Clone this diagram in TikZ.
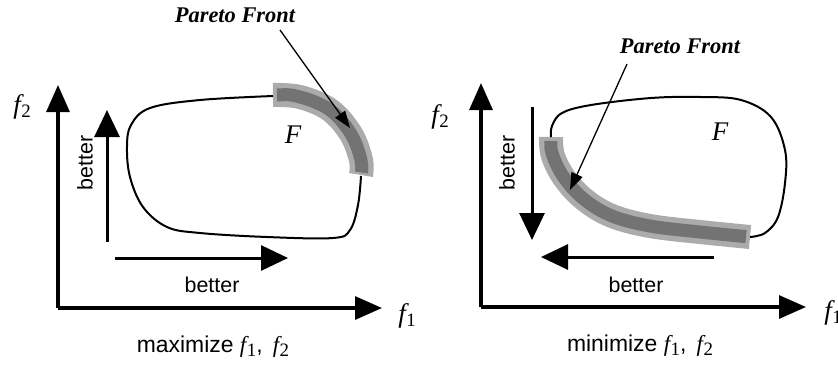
\documentclass[tikz,border=0pt]{standalone}
\usepackage{fontspec}
\setmainfont{Liberation Sans}
\newfontfamily\timesfont{Liberation Serif}
\usetikzlibrary{arrows.meta}

\newcommand{\fvar}[1]{{\timesfont\itshape f}\kern0.5bp{\timesfont\fontsize{19}{21}\selectfont\raisebox{-0.4ex}{#1}}}

\tikzset{
    axis/.style={line width=3.2bp, -{Triangle[length=27bp,width=23bp]}},
    better/.style={line width=3bp, -{Triangle[length=27bp,width=25bp]}},
    outerband/.style={line width=24bp, draw=black!33},
    innerband/.style={line width=13bp, draw=black!55, shorten <=4bp, shorten >=4bp},
    region/.style={line width=2bp},
    pointer/.style={line width=1.3bp, -{Triangle[length=17bp,width=12bp]}},
    txt/.style={font=\fontsize{21.5}{24}\selectfont, inner sep=0pt},
    bigtxt/.style={font=\fontsize{23}{26}\selectfont, inner sep=0pt},
    flabel/.style={font=\fontsize{27}{29}\selectfont, inner sep=0pt},
    front/.style={font=\timesfont\bfseries\itshape\fontsize{22.5}{24}\selectfont, inner sep=0pt},
}

\begin{document}
\begin{tikzpicture}[x=1bp, y=-1bp]
    \useasboundingbox[fill=white] (0,0) rectangle (838,367);

    % maximize
    \coordinate (O1) at (58, 308);
    \coordinate (X1) at (382, 308);
    \coordinate (Y1) at (58, 85);
    \coordinate (UpS) at (107, 242);
    \coordinate (UpE) at (107, 110);
    \coordinate (RtS) at (115, 258);
    \coordinate (RtE) at (288, 258);
    \coordinate (tip1) at (350, 128);

    \draw[outerband] plot[smooth, tension=0.6] coordinates
        {(273,95) (300,97) (330,110) (351,134) (361,160) (361,175)};
    \draw[innerband] plot[smooth, tension=0.6] coordinates
        {(273,95) (300,97) (330,110) (351,134) (361,160) (361,175)};
    \draw[region] plot[smooth, tension=0.6] coordinates
        {(273,96) (200,100) (150,108) (131,125) (127,147) (130,177) (143,207)
         (167,227) (200,233) (267,237) (333,238) (350,230) (358,205) (361,176)};

    \draw[axis] (O1) -- (X1);
    \draw[axis] (O1) -- (Y1);
    \draw[better] (UpS) -- (UpE);
    \draw[better] (RtS) -- (RtE);

    \node[flabel] (f1a) at (407, 316) {\fvar{1}};
    \node[flabel] (f2a) at (22, 107) {\fvar{2}};
    \node[txt, rotate=90] (bv1) at (85, 163) {better};
    \node[txt] (bh1) at (212, 285) {better};
    \node[bigtxt] (max) at (213, 347) {maximize \fvar{1}, \,\fvar{2}};
    \node[flabel] (F1) at (293, 135) {{\timesfont\itshape F}};
    \node[front] (pf1) at (235, 15) {Pareto Front};
    \coordinate (pf1s) at (280, 30);
    \draw[pointer] (pf1s) -- (tip1);

    % minimize
    \coordinate (O2) at (481, 307);
    \coordinate (X2) at (806, 307);
    \coordinate (Y2) at (481, 83);
    \coordinate (DnS) at (532, 107);
    \coordinate (DnE) at (532, 240);
    \coordinate (LtS) at (714, 257);
    \coordinate (LtE) at (541, 257);
    \coordinate (tip2) at (570, 190);

    \draw[outerband] plot[smooth, tension=0.6] coordinates
        {(551,137) (553,156) (565,179) (585,200) (612,216) (650,226) (700,232) (750,237)};
    \draw[innerband] plot[smooth, tension=0.6] coordinates
        {(551,137) (553,156) (565,179) (585,200) (612,216) (650,226) (700,232) (750,237)};
    \draw[region] plot[smooth, tension=0.6] coordinates
        {(551,137) (552,126) (562,113) (591,105) (651,98) (701,97) (741,100)
         (771,117) (785,150) (785,183) (778,217) (765,233) (750,237)};

    \draw[axis] (O2) -- (X2);
    \draw[axis] (O2) -- (Y2);
    \draw[better] (DnS) -- (DnE);
    \draw[better] (LtS) -- (LtE);

    \node[flabel] (f1b) at (833, 313) {\fvar{1}};
    \node[flabel] (f2b) at (440, 117) {\fvar{2}};
    \node[txt, rotate=90] (bv2) at (507, 163) {better};
    \node[txt] (bh2) at (636, 285) {better};
    \node[bigtxt] (min) at (640, 346) {minimize \fvar{1}, \,\fvar{2}};
    \node[flabel] (F2) at (720, 132) {{\timesfont\itshape F}};
    \node[front] (pf2) at (680, 46) {Pareto Front};
    \coordinate (pf2s) at (627, 64);
    \draw[pointer] (pf2s) -- (tip2);
\end{tikzpicture}
\end{document}
